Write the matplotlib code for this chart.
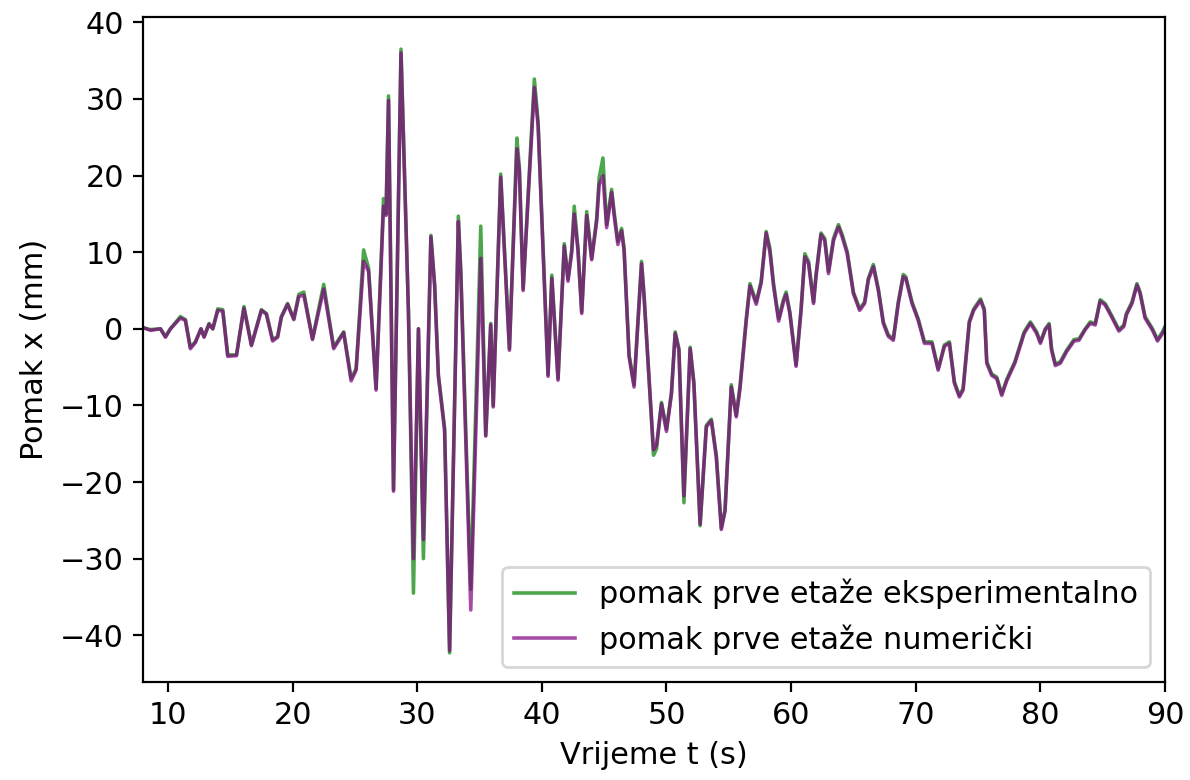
import matplotlib
matplotlib.use("Agg")
import matplotlib.pyplot as plt

# time (s)
t = [8.1, 8.6, 9.4, 9.8, 10.2, 11.0, 11.4, 11.8, 12.2, 12.65, 12.9, 13.3, 13.6, 14.0, 14.4,
     14.8, 15.5, 16.1, 16.7, 17.5, 17.9, 18.4, 18.8, 19.1, 19.6, 20.1, 20.5, 20.9, 21.6, 22.5,
     23.3, 24.1, 24.7, 25.1, 25.7, 26.1, 26.7, 27.3, 27.5, 27.7, 28.1, 28.7, 29.3, 29.7, 30.1,
     30.5, 31.1, 31.4, 31.7, 32.2, 32.6, 33.3, 33.5, 34.3, 35.1, 35.5, 35.9, 36.1, 36.7, 37.4,
     38.0, 38.2, 38.5, 38.9, 39.4, 39.7, 40.5, 40.8, 41.3, 41.8, 42.1, 42.4, 42.6, 42.9, 43.2,
     43.6, 44.0, 44.4, 44.6, 44.9, 45.2, 45.6, 45.8, 46.1, 46.4, 46.6, 47.0, 47.4, 48.0, 48.2,
     48.96, 49.2, 49.6, 50.0, 50.4, 50.7, 51.0, 51.4, 51.9, 52.2, 52.7, 53.2, 53.6, 54.0, 54.4,
     54.7, 55.2, 55.6, 55.9, 56.4, 56.7, 57.2, 57.6, 58.0, 58.3, 58.6, 59.0, 59.4, 59.6, 59.9,
     60.4, 60.8, 61.1, 61.4, 61.8, 62.0, 62.4, 62.7, 63.0, 63.4, 63.8, 64.1, 64.5, 65.0, 65.5,
     65.9, 66.2, 66.6, 67.0, 67.4, 67.8, 68.2, 68.6, 69.0, 69.2, 69.7, 70.2, 70.7, 71.3, 71.8,
     72.3, 72.7, 73.1, 73.5, 73.8, 74.3, 74.65, 75.2, 75.5, 75.7, 76.1, 76.5, 76.9, 77.3, 77.95,
     78.7, 79.2, 79.7, 80.0, 80.4, 80.7, 80.9, 81.2, 81.6, 82.1, 82.7, 83.1, 83.6, 84.0, 84.4,
     84.8, 85.2, 85.7, 86.3, 86.7, 86.9, 87.35, 87.75, 88.0, 88.4, 89.0, 89.4, 89.8, 90.0]

# experimental first-floor displacement (mm)
x_exp = [0.1, -0.1, 0.0, -1.0, 0.0, 1.6, 1.2, -2.4, -1.7, 0.0, -1.0, 0.7, 0.0, 2.6, 2.5,
         -3.4, -3.4, 2.9, -2.1, 2.5, 2.0, -1.4, -1.0, 1.6, 3.3, 1.3, 4.5, 4.8, -1.3, 5.8,
         -2.4, -0.4, -6.5, -5.2, 10.3, 7.9, -7.8, 17.0, 15.0, 30.4, -21.0, 36.5, 2.2, -34.5, 0.0,
         -30.0, 12.2, 5.8, -6.0, -13.0, -42.3, 14.7, 7.5, -34.0, 13.4, -13.9, 0.7, -10.0, 20.2, -2.6,
         24.9, 21.0, 5.2, 17.5, 32.6, 27.0, -6.0, 7.0, -6.5, 11.1, 6.5, 10.3, 16.0, 10.5, 2.2,
         15.3, 9.2, 14.4, 19.7, 22.3, 13.6, 18.2, 15.3, 11.4, 13.1, 10.5, -3.4, -7.3, 8.8, 4.5,
         -16.5, -15.7, -9.6, -13.1, -8.3, -0.4, -2.6, -22.7, -2.4, -7.0, -25.7, -12.6, -11.8, -16.5, -26.0,
         -23.6, -7.3, -11.3, -7.5, 1.3, 5.9, 3.5, 6.2, 12.7, 10.5, 5.8, 1.3, 3.9, 4.8, 2.2,
         -4.7, 2.6, 9.8, 8.8, 3.5, 7.1, 12.5, 11.8, 7.5, 11.8, 13.6, 12.3, 10.1, 4.8, 2.6,
         3.5, 6.6, 8.4, 5.2, 0.9, -0.8, -1.3, 3.5, 7.1, 6.8, 3.5, 1.3, -1.7, -1.7, -5.2,
         -2.1, -1.7, -6.9, -8.7, -7.8, 1.0, 2.6, 3.9, 2.6, -4.3, -5.9, -6.3, -8.5, -6.6, -4.3,
         -0.4, 0.9, -0.4, -1.7, 0.0, 0.7, -2.6, -4.6, -4.3, -2.8, -1.4, -1.3, 0.0, 0.9, 0.7,
         3.8, 3.3, 1.8, -0.1, 0.5, 2.0, 3.5, 5.9, 4.8, 1.6, 0.0, -1.4, -0.4, 0.3]

# numerical first-floor displacement (mm)
x_num = [0.1, -0.2, 0.0, -1.1, 0.0, 1.4, 1.1, -2.6, -1.8, 0.0, -1.1, 0.6, 0.0, 2.4, 2.3,
         -3.6, -3.5, 2.7, -2.2, 2.4, 1.9, -1.6, -1.1, 1.5, 3.2, 1.2, 4.2, 4.4, -1.4, 5.2,
         -2.6, -0.5, -6.8, -5.4, 8.8, 7.5, -8.0, 16.0, 14.8, 29.8, -21.2, 36.0, 2.0, -30.0, 0.0,
         -27.5, 12.0, 5.5, -6.2, -13.3, -42.0, 14.0, 7.2, -36.7, 9.2, -14.0, 0.5, -10.2, 19.8, -2.8,
         23.5, 20.5, 5.0, 17.0, 31.5, 26.5, -6.2, 6.6, -6.7, 10.8, 6.2, 10.0, 15.0, 10.2, 2.0,
         14.8, 9.0, 14.0, 18.8, 20.0, 13.2, 17.8, 14.8, 11.0, 12.8, 10.2, -3.6, -7.6, 8.5, 4.2,
         -15.8, -15.2, -9.8, -13.4, -8.5, -0.6, -2.8, -21.8, -2.6, -7.2, -25.5, -12.8, -12.0, -16.8, -26.2,
         -23.8, -7.6, -11.5, -7.8, 1.0, 5.6, 3.2, 6.0, 12.5, 10.0, 5.5, 1.0, 3.6, 4.5, 2.0,
         -4.9, 2.4, 9.4, 8.5, 3.3, 6.8, 12.3, 11.5, 7.2, 11.5, 13.3, 12.0, 9.8, 4.6, 2.4,
         3.3, 6.4, 8.1, 5.0, 0.7, -1.0, -1.5, 3.3, 6.8, 6.6, 3.3, 1.1, -1.9, -1.9, -5.4,
         -2.3, -1.9, -7.1, -8.9, -8.0, 0.8, 2.4, 3.7, 2.4, -4.5, -6.1, -6.5, -8.7, -6.8, -4.5,
         -0.6, 0.7, -0.6, -1.9, -0.1, 0.5, -2.8, -4.8, -4.5, -3.0, -1.6, -1.5, -0.1, 0.7, 0.5,
         3.6, 3.1, 1.6, -0.3, 0.3, 1.8, 3.3, 5.7, 4.6, 1.4, -0.2, -1.6, -0.6, 0.1]

plt.rcParams["font.size"] = 11

fig = plt.figure(figsize=(1190 / 198, 780 / 198), dpi=198)
ax = fig.add_axes([143 / 1190, 1 - 682 / 780, (1165 - 143) / 1190, (682 - 17) / 780])

ax.plot(t, x_exp, color="green", alpha=0.7, linewidth=1.3,
        label="pomak prve etaže eksperimentalno")
ax.plot(t, x_num, color="purple", alpha=0.7, linewidth=1.3,
        label="pomak prve etaže numerički")

ax.set_xlim(8, 90)
ax.set_ylim(-46.1, 40.7)
ax.set_xticks([10, 20, 30, 40, 50, 60, 70, 80, 90])
ax.set_yticks([-40, -30, -20, -10, 0, 10, 20, 30, 40])
ax.set_xlabel("Vrijeme t (s)")
ax.set_ylabel("Pomak x (mm)")
ax.legend(loc="lower right")

fig.savefig("out.png", dpi=198)
